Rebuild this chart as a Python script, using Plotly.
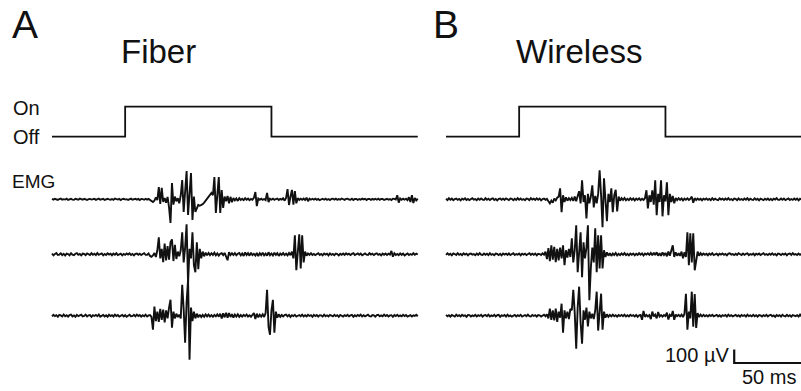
import plotly.graph_objects as go

# ---------------- data ----------------
# time base (ms), one sample per ms
DT_MS = 1.0
# light pulse (state 0 = Off, 1 = On), step times in ms
pulse_t = [0, 50, 150, 250]
pulse_state = [0, 1, 0, 0]
pulse_labels = ["Off", "On"]

# EMG traces (µV), panel A = Fiber
emg_A1 = [3,-2,4,-1,-4,2,5,-3,1,-2, 4,-5,2,3,-2,-4,3,1,-3,5, -1,-3,4,2,-5,1,3,-2,-1,4,
          -4,2,5,-3,0,3,-5,2,4,-1, -3,2,-4,5,1,-2,3,-5,2,4, -2,1,-4,3,5,-3,-1,4,-2,3,
          -5,2,1,-3,4,-2,3,-4,-8,-20, -10,14,-6,91,-35,85,-20,10,-25,18,
          -60,-175,120,-40,20,-15,8,-30,30,143, -94,40,210,-116,60,195,-153,20,-94,-60,
          -42,-48,-44,-36,-24,-10,5,20,35,47, 30,165,-101,40,165,-101,69,-64,20,-15,
          25,-30,18,-22,10,-8,6,-12,8,-5, 4,-6,8,-3,5,-7,3,-4,10,54,
          -50,6,-3,5,-4,2,-6,47,-20,4, -3,5,-4,2,6,-5,3,-2,8,-10,
          10,76,-42,20,70,-40,60,-30,8,-5, 4,-3,6,-5,12,-14,5,-3,4,-2,
          5,-4,3,-6,2,4,-3,5,-4,2, -5,3,4,-2,5,-4,2,-3,6,-1,
          -4,3,5,-2,-3,4,-5,2,3,-4, 2,-3,5,-1,4,-5,3,2,-4,3,
          -2,4,-3,5,-4,2,3,-5,1,4, -3,2,-5,4,3,-2,30,-25,6,-4,
          5,-3,4,-6,15,-20,30,-28,10,-8, 4]
emg_A2 = [6,-8,3,9,-5,-2,7,-6,4,-9, 5,2,-7,8,-3,-6,4,9,-4,2, -8,5,3,-6,7,-2,-5,8,-3,4,
          -6,9,-4,2,6,-8,3,-5,7,-2, 4,-7,5,-3,8,-6,2,5,-8,3, -4,6,-2,7,-5,3,-8,4,6,-3,
          5,-6,2,8,-4,-3,6,-12,-18,-8, 10,-20,30,126,-30,40,-59,80,-45,60,
          -40,90,111,-50,70,-35,20,-15,30,163, -60,50,222,-215,40,-30,163,-80,-133,89,
          -111,40,-30,20,-15,12,-8,10,-6,8, -5,12,-8,6,-10,4,8,-6,10,-12,
          -44,15,-6,8,-5,9,-7,4,10,-8, 6,-12,14,-5,8,-10,12,-6,4,-9,
          10,-14,8,-6,12,-8,5,-10,15,-7, 6,-9,12,-5,8,-12,6,-4,9,-6,
          5,-8,10,-6,20,-30,141,-118,60,148, -104,141,-60,20,-10,6,-4,8,-5,3,
          -6,4,8,-5,3,-7,6,-2,5,-8, 7,-4,3,-6,5,2,-8,4,-3,6,
          -5,7,-2,4,-6,3,8,-5,-2,6, -4,5,-7,3,6,-3,-5,8,-2,4,
          -6,3,7,-4,2,-8,5,-3,6,-5, 4,-2,25,-18,8,-5,3,-6,7,-4,
          5,-8,3,6,-5,2,-4,8,-3,5, -2]
emg_A3 = [-5,7,-3,4,-8,6,2,-6,9,-4, 3,-7,5,8,-5,2,-9,6,-3,4, 7,-5,-2,8,-6,3,5,-8,4,-2,
          6,-4,9,-7,2,5,-6,3,-8,7, -3,4,-6,8,-2,5,-7,3,6,-5, 4,-8,2,7,-4,-3,6,-5,8,-2,
          5,-7,3,-4,8,-6,2,5,-8,-104, 67,-40,30,-45,50,-30,45,-50,40,-20,
          60,118,-89,30,-20,15,-10,8,-20,229, 50,-200,100,266,-326,60,-40,30,-20,15,
          -12,8,-10,6,-8,10,-5,8,-6,4, -8,6,-5,10,-7,15,-20,18,-12,22,
          -15,20,-10,12,-14,8,-6,10,-8,5, -7,6,-4,9,-6,3,-8,5,20,-25,
          15,-12,8,-6,10,-10,20,192,-81,-141, 40,118,-126,30,-15,10,-8,5,-6,4,
          8,-5,6,-9,4,-3,7,-6,2,5, -4,8,-6,3,-5,7,-2,4,-8,6,
          -3,5,-7,4,2,-6,8,-4,3,-5, 6,-2,-5,7,-3,4,-8,5,2,-6,
          4,-3,7,-5,2,6,-8,3,-4,5, -2,8,-6,3,-5,4,7,-3,-6,5,
          3,-7,4,6,-5,2,-4,8,-3,5, -6,2,4,-8,5,-3,7,-4,2,-5,
          6,-3,5,-7,2,4,-6,3,-2,7, -4]

# EMG traces (µV), panel B = Wireless
emg_B1 = [4,-6,8,-3,5,-7,2,6,-4,3, -8,5,-2,7,-5,3,-6,4,8,-3, 2,-7,5,-4,6,-2,-5,8,-3,4,
          -6,3,7,-5,2,-8,4,6,-3,5, -4,7,-2,-6,5,3,-7,4,-5,8, -3,6,-4,2,-7,5,3,-6,8,-2,
          4,-5,7,-3,6,-8,2,5,-4,3, -15,-30,-10,-25,5,-8,12,20,81,-96,
          30,-20,15,-10,8,-6,10,-12,20,-15, 25,60,-30,141,-20,30,-141,40,-30,20,
          104,-60,25,-30,40,215,30,-207,155,20, -163,40,-20,81,-96,30,70,-90,20,-10,
          8,-5,10,-7,4,-6,8,-4,6,-8, 5,-3,7,-6,4,-5,8,67,-67,30,
          -20,67,-40,141,-118,40,-20,141,-126,30, -15,126,-118,40,-20,25,-30,10,-6,8,
          -4,6,-8,5,-3,7,-5,4,20,-25, 8,-5,6,-3,4,-7,5,-2,6,-4,
          3,-6,8,-4,5,-3,-6,7,-2,4, -5,6,-3,8,-4,2,-7,5,3,-6,
          7,-4,2,-5,6,-3,8,-6,4,-2, -5,7,-3,4,-8,5,2,-6,4,-3,
          6,-5,3,-7,5,-2,8,-4,-3,6, -4,5,-6,3,7,-5,2,-4,6,-3,
          5,-8,4,-2,6,-5,3,7,-4,2, -3]
emg_B2 = [-5,7,-3,4,-8,6,2,-5,8,-4, 3,-6,7,-2,5,-8,4,6,-3,2, -7,5,-4,8,-2,-5,6,-3,4,-6,
          8,-4,2,-7,5,3,-6,4,-8,6, -2,5,-4,7,-6,3,8,-5,2,-3, 6,-7,4,-2,5,-6,3,8,-4,5,
          -3,6,-8,4,2,-5,7,-3,20,-35, 45,-50,67,-40,55,-59,40,-45,50,-30,
          67,-81,30,-25,40,-20,118,-60,30,215, -133,60,163,-170,89,-30,50,215,-340,-100,
          50,-60,192,-133,141,-104,141,-104,30,-20, 15,-10,8,-12,6,-5,10,-8,4,-6,
          7,-4,9,-6,3,-8,5,-3,6,-7, 4,-5,8,-3,6,-9,5,-2,7,-4,
          10,-8,12,-6,15,-10,8,-12,14,-5, 10,-15,20,-10,30,67,-20,15,-10,8,
          -12,20,-30,15,-20,163,-81,155,-60,155, -118,-60,20,-10,8,-5,6,-3,4,-7,
          5,-3,8,-6,2,4,-7,5,-2,6, -4,3,-8,5,7,-3,2,-6,4,-5,
          8,-2,-5,6,-4,3,7,-6,2,-3, 5,-7,4,-2,6,-5,3,8,-4,2,
          -6,5,-3,7,-4,2,-8,5,3,-6, 4,-2,6,-7,3,5,-4,8,-3,2,
          -5,6,-4,3,-7,5,2,-6,4,-3, 6]
emg_B3 = [6,-4,3,-7,5,2,-6,8,-3,4, -5,7,-2,3,-8,5,4,-6,2,-3, 7,-5,4,-2,6,-7,3,5,-4,8,
          -6,2,-3,7,-5,4,6,-8,3,-2, 5,-6,8,-4,2,-7,3,6,-5,4, -3,7,-6,2,5,-4,8,-3,-5,6,
          -2,4,-7,5,3,-6,2,8,-4,10, -20,52,-30,40,-35,52,-45,30,-15,89,
          -126,40,-20,30,-25,50,40,192,20,-244, 60,215,-50,-207,40,-30,60,-80,30,-20,
          15,-25,40,178,-110,20,163,-104,30,-15, 10,-8,6,-5,8,-4,3,-7,5,-3,
          6,-4,8,-6,3,-5,7,-2,4,-6, 5,-8,3,6,-30,35,-8,5,-6,4,
          -25,30,-5,8,-20,28,-6,4,-7,5, -3,22,-28,6,-5,35,-30,8,-4,6,
          -5,8,-10,15,163,-104,30,-20,178,-81, 160,-90,20,-10,8,-5,6,-4,3,-6,
          5,-3,7,-4,2,6,-5,3,-7,4, -2,5,-6,8,-3,4,-5,2,6,-4,
          3,-7,5,-2,4,-6,8,-3,2,-5, 6,-4,3,-7,5,2,-6,4,-3,7,
          -5,3,6,-4,2,-8,5,-3,4,-6, 7,-2,-5,6,-4,3,-7,5,2,-3,
          4,-6,8,-5,3,-2,6,-4,5,-7, 3]

# scale bar
scale_uv = 100
scale_ms = 50

titles = ["Fiber", "Wireless"]
panel_letters = ["A", "B"]

# ---------------- layout geometry ----------------
W, H = 801, 391
PX_PER_MS = 1.463
PX_PER_UV = 0.135
A_X0 = 52      # pixel where panel A time 0 sits
B_X0 = 446     # pixel where panel B time 0 sits
PULSE_OFF_Y, PULSE_ON_Y = 136.7, 106.7
trace_offsets_uv = [(H - 199.3) / PX_PER_UV, (H - 254.3) / PX_PER_UV, (H - 315.7) / PX_PER_UV]
scale_x_ms = 197
scale_y_uv = (H - 363) / PX_PER_UV

LINE = dict(color="#111111", width=1.9)

fig = go.Figure()

def add_panel(traces, xa):
    t_axis = [i * DT_MS for i in range(len(traces[0]))]
    fig.add_trace(go.Scatter(x=pulse_t, y=pulse_state, mode="lines", line=dict(color="#111111", width=1.8, shape="hv"),
                             xaxis=xa, yaxis="y2", hoverinfo="skip"))
    for tr, off in zip(traces, trace_offsets_uv):
        fig.add_trace(go.Scatter(x=t_axis, y=[v + off for v in tr], mode="lines", line=LINE,
                                 xaxis=xa, yaxis="y", hoverinfo="skip"))

add_panel([emg_A1, emg_A2, emg_A3], "x")
add_panel([emg_B1, emg_B2, emg_B3], "x2")

# scale bar (panel B coordinates)
fig.add_trace(go.Scatter(x=[scale_x_ms, scale_x_ms, scale_x_ms + scale_ms],
                         y=[scale_y_uv + scale_uv, scale_y_uv, scale_y_uv],
                         mode="lines", line=dict(color="#111111", width=2.2),
                         xaxis="x2", yaxis="y", hoverinfo="skip"))

def xr(x0):
    return [(0 - x0) / PX_PER_MS, (W - x0) / PX_PER_MS]

pulse_scale = PULSE_OFF_Y - PULSE_ON_Y
ax_common = dict(visible=False, showgrid=False, zeroline=False, fixedrange=True)
fig.update_layout(
    width=W, height=H, margin=dict(l=0, r=0, t=0, b=0),
    paper_bgcolor="white", plot_bgcolor="white", showlegend=False,
    xaxis=dict(domain=[0, 1], range=xr(A_X0), **ax_common),
    xaxis2=dict(domain=[0, 1], range=xr(B_X0), overlaying="x", **ax_common),
    yaxis=dict(domain=[0, 1], range=[0, H / PX_PER_UV], **ax_common),
    yaxis2=dict(domain=[0, 1], range=[-(H - PULSE_OFF_Y) / pulse_scale, PULSE_OFF_Y / pulse_scale],
                overlaying="y", **ax_common),
)

FONT = "Liberation Sans, Arial, sans-serif"

def ann(text, x, y, size, xanchor="left"):
    fig.add_annotation(text=text, x=x / W, y=1 - y / H, xref="paper", yref="paper",
                       xanchor=xanchor, yanchor="middle", showarrow=False,
                       font=dict(family=FONT, size=size, color="#111111"))

ann(panel_letters[0], 10, 25, 39)
ann(panel_letters[1], 431, 25, 39)
ann(titles[0], 119, 51, 33)
ann(titles[1], 514, 51, 33)
ann(pulse_labels[1], 11, 108, 20)
ann(pulse_labels[0], 11, 137, 20)
ann("EMG", 10, 181, 19)
ann(f"{scale_uv} µV", 731, 355, 20, xanchor="right")
ann(f"{scale_ms} ms", 769, 377, 20, xanchor="center")

fig.write_html("out.html", config={"displayModeBar": False, "staticPlot": True},
               post_script="document.body.style.margin='0';document.body.style.overflow='hidden';")
